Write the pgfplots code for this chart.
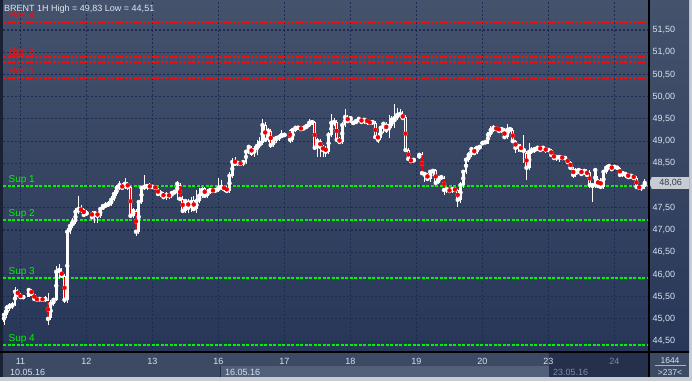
\documentclass[border=0pt]{standalone}
\usepackage{pgfplots}
\pgfplotsset{compat=1.18}
\usepackage{pgfplotstable}
\usepackage{fontspec}
\setmainfont{Liberation Sans}
\definecolor{bgtop}{RGB}{68,82,108}
\definecolor{bgbot}{RGB}{40,55,88}
\definecolor{gridc}{RGB}{24,44,84}
\definecolor{labc}{RGB}{215,225,240}
\definecolor{resc}{RGB}{255,10,10}
\definecolor{supc}{RGB}{0,245,0}
\definecolor{redbody}{RGB}{240,0,0}
\definecolor{stripc}{RGB}{60,74,100}
\definecolor{bandc}{RGB}{82,96,122}
\definecolor{darkc}{RGB}{36,48,76}
\definecolor{winc}{RGB}{200,205,212}
\definecolor{tagc}{RGB}{200,204,210}
\definecolor{tagtext}{RGB}{50,60,80}
\definecolor{titlec}{RGB}{225,232,242}
\definecolor{dimc}{RGB}{125,140,165}

\pgfplotstableread{
i o h l c
0 44.93 45.20 44.86 45.09
1 45.09 45.31 45.02 45.25
2 45.25 45.36 45.18 45.29
3 45.29 45.38 45.22 45.31
4 45.31 45.72 45.29 45.61
5 45.63 45.67 45.49 45.54
6 45.54 45.58 45.47 45.49
7 45.49 45.52 45.47 45.49
9 45.49 45.70 45.49 45.65
10 45.65 45.67 45.52 45.56
11 45.56 45.56 45.40 45.45
12 45.45 45.49 45.38 45.43
13 45.43 45.49 45.40 45.45
14 45.45 45.47 45.40 45.43
15 45.43 45.52 45.38 45.45
16 45.43 45.58 44.86 45.00
17 45.02 45.43 44.98 45.34
18 45.34 45.47 45.29 45.43
19 45.43 46.19 45.40 46.06
20 46.06 46.24 45.90 46.10
21 46.06 46.15 45.92 45.97
22 45.97 46.01 45.36 45.43
23 45.43 47.05 45.36 46.96
24 46.96 47.18 46.91 47.09
25 47.09 47.27 47.05 47.18
26 47.18 47.50 47.14 47.41
27 47.41 47.77 47.36 47.47
28 47.47 47.56 47.38 47.45
29 47.47 47.50 47.32 47.34
30 47.36 47.45 47.32 47.38
32 47.41 47.43 47.27 47.29
33 47.29 47.43 47.16 47.38
34 47.38 47.41 47.16 47.32
35 47.32 47.52 47.27 47.47
36 47.47 47.59 47.45 47.54
37 47.54 47.63 47.50 47.56
38 47.56 47.65 47.52 47.59
39 47.59 47.77 47.54 47.68
40 47.68 47.90 47.65 47.81
41 47.81 48.01 47.77 47.95
42 47.95 48.10 47.90 48.01
43 48.01 48.06 47.90 47.95
44 47.95 48.17 47.92 48.04
45 48.04 48.08 47.90 47.97
46 47.97 47.99 47.27 47.32
47 47.32 47.50 47.27 47.43
48 47.43 47.47 46.87 46.96
49 46.96 47.68 46.91 47.63
50 47.63 47.99 47.59 47.95
51 47.95 48.24 47.90 47.97
52 47.97 48.04 47.90 47.99
53 47.99 48.06 47.92 47.97
54 47.97 47.99 47.95 47.97
55 47.97 48.01 47.90 47.95
56 47.92 47.95 47.77 47.81
57 47.81 47.90 47.74 47.83
58 47.83 47.86 47.70 47.74
59 47.74 47.86 47.68 47.79
60 47.79 47.83 47.70 47.77
61 47.77 47.88 47.72 47.83
62 47.83 47.88 47.81 47.86
63 47.83 48.10 47.68 48.04
64 48.01 48.06 47.65 47.70
65 47.70 47.77 47.38 47.43
66 47.43 47.70 47.38 47.65
67 47.65 47.70 47.38 47.50
68 47.50 47.74 47.41 47.63
69 47.68 47.77 47.43 47.47
70 47.47 47.90 47.38 47.65
71 47.65 47.95 47.61 47.77
72 47.77 47.97 47.72 47.90
73 47.95 47.97 47.72 47.77
74 47.77 47.92 47.72 47.86
75 47.86 47.95 47.81 47.90
76 47.90 47.95 47.83 47.88
77 47.88 47.95 47.83 47.90
78 47.90 48.17 47.86 47.95
79 47.95 48.13 47.90 47.97
80 47.97 47.99 47.86 47.92
81 47.95 47.99 47.83 47.88
82 47.88 48.31 47.83 48.22
83 48.22 48.62 48.17 48.53
84 48.58 48.64 48.44 48.49
85 48.49 48.55 48.44 48.51
86 48.51 48.55 48.44 48.49
87 48.49 48.58 48.44 48.53
88 48.53 48.80 48.49 48.76
89 48.76 48.91 48.71 48.87
90 48.85 48.89 48.67 48.73
91 48.73 48.89 48.64 48.80
92 48.80 49.03 48.69 48.89
93 48.89 49.09 48.85 48.96
94 48.96 49.50 48.91 49.36
95 49.36 49.43 48.98 49.03
96 49.03 49.30 48.98 49.23
97 49.23 49.27 48.85 48.91
98 48.91 49.09 48.87 49.03
99 49.03 49.12 48.96 49.07
100 49.07 49.16 49.00 49.09
101 49.09 49.25 49.07 49.14
102 49.14 49.16 49.12 49.14
104 49.25 49.27 48.96 49.03
105 49.03 49.30 48.98 49.25
106 49.25 49.32 49.21 49.30
107 49.30 49.34 49.25 49.30
108 49.30 49.32 49.23 49.27
109 49.27 49.34 49.25 49.30
110 49.30 49.39 49.27 49.34
111 49.34 49.50 49.32 49.41
112 49.41 49.48 49.36 49.43
113 49.43 49.45 48.80 48.85
114 48.85 49.07 48.64 49.00
115 49.00 49.05 48.64 48.87
116 48.87 48.91 48.64 48.80
117 48.85 48.89 48.64 48.76
118 48.76 49.21 48.71 49.14
119 49.14 49.61 49.09 49.41
120 49.41 49.52 49.34 49.43
121 49.43 49.48 48.98 49.03
122 49.05 49.09 48.94 48.98
123 48.98 49.43 48.94 49.36
124 49.36 49.72 49.32 49.54
125 49.54 49.59 49.41 49.45
126 49.45 49.57 49.41 49.52
127 49.41 49.43 49.39 49.41
128 49.41 49.50 49.39 49.45
129 49.45 49.54 49.43 49.50
130 49.50 49.52 49.41 49.43
131 49.43 49.52 49.39 49.48
132 49.48 49.50 49.36 49.43
133 49.43 49.48 49.36 49.41
134 49.41 49.48 49.36 49.43
135 49.41 49.45 49.05 49.09
136 49.14 49.18 48.96 49.03
137 49.07 49.34 49.03 49.30
138 49.30 49.43 49.18 49.39
139 49.39 49.43 49.18 49.25
140 49.25 49.59 49.07 49.34
141 49.34 49.57 49.30 49.48
142 49.43 49.83 49.30 49.52
143 49.52 49.75 49.48 49.59
144 49.59 49.72 49.52 49.61
145 49.59 49.68 49.48 49.52
146 49.54 49.59 48.76 48.80
147 48.80 48.85 48.55 48.60
148 48.58 48.60 48.51 48.55
149 48.55 48.60 48.53 48.58
151 48.62 48.71 48.60 48.69
152 48.71 48.76 48.24 48.28
153 48.22 48.31 48.08 48.26
154 48.26 48.28 48.10 48.15
155 48.15 48.35 48.08 48.31
156 48.31 48.37 48.22 48.33
157 48.35 48.37 48.01 48.06
158 48.06 48.22 48.04 48.17
159 48.17 48.24 48.13 48.19
160 48.17 48.22 47.79 47.90
161 47.90 47.95 47.83 47.92
162 47.90 47.92 47.83 47.88
163 47.88 47.95 47.83 47.92
164 47.92 47.97 47.86 47.90
165 47.90 47.92 47.52 47.68
166 47.68 48.08 47.61 48.01
167 48.01 48.35 47.95 48.31
168 48.31 48.64 48.26 48.58
169 48.58 48.76 48.53 48.69
170 48.69 48.87 48.64 48.82
171 48.82 48.87 48.69 48.73
172 48.73 48.89 48.71 48.85
173 48.85 48.89 48.80 48.87
174 48.94 48.98 48.91 48.96
175 48.96 49.00 48.94 48.98
176 48.98 49.21 48.94 49.14
177 49.14 49.34 49.09 49.25
178 49.25 49.36 49.21 49.30
179 49.30 49.34 49.23 49.27
180 49.30 49.32 49.18 49.23
181 49.23 49.32 49.18 49.27
182 49.25 49.30 49.05 49.09
183 49.09 49.39 49.05 49.25
184 49.25 49.32 49.18 49.27
185 49.25 49.30 48.96 49.00
186 49.00 49.03 48.73 48.85
187 48.85 48.94 48.76 48.89
188 48.89 48.94 48.76 48.80
189 48.76 49.14 48.51 48.80
190 48.73 48.78 48.13 48.40
191 48.40 48.96 48.35 48.76
192 48.76 48.87 48.71 48.80
193 48.78 48.87 48.73 48.82
194 48.82 48.89 48.78 48.85
195 48.87 48.89 48.76 48.80
196 48.80 48.89 48.78 48.85
197 48.82 48.85 48.73 48.80
198 48.80 48.82 48.76 48.80
199 48.80 48.82 48.67 48.69
200 48.69 48.71 48.60 48.62
201 48.62 48.67 48.55 48.64
202 48.62 48.67 48.53 48.64
203 48.64 48.67 48.60 48.62
204 48.62 48.64 48.58 48.62
205 48.58 48.60 48.51 48.53
206 48.53 48.55 48.35 48.40
207 48.37 48.42 48.17 48.24
208 48.24 48.40 48.19 48.33
209 48.33 48.40 48.26 48.35
210 48.35 48.37 48.24 48.26
211 48.26 48.37 48.24 48.33
212 48.33 48.37 48.19 48.24
213 48.31 48.35 47.95 48.01
214 47.97 48.06 47.63 48.01
215 48.01 48.40 47.95 48.35
216 48.15 48.22 47.95 47.99
217 48.13 48.17 47.92 47.97
218 47.97 48.35 47.92 48.31
219 48.31 48.46 48.26 48.40
220 48.40 48.49 48.35 48.44
221 48.44 48.46 48.33 48.37
222 48.42 48.44 48.40 48.42
223 48.40 48.42 48.37 48.40
224 48.40 48.42 48.19 48.24
225 48.24 48.33 48.19 48.28
226 48.22 48.31 48.17 48.26
227 48.26 48.28 48.15 48.19
228 48.19 48.26 48.15 48.22
229 48.22 48.24 48.13 48.17
230 48.17 48.22 47.92 47.97
231 47.97 47.99 47.90 47.95
232 47.95 48.01 47.88 47.97
233 47.97 48.15 47.92 48.06
}\candles

\begin{document}
\begin{tikzpicture}[x=1pt,y=1pt]
\useasboundingbox (0,0) rectangle (692,381);
% window frame and strips
\fill[winc] (0,0) rectangle (692,381);
\fill[stripc] (0,4) rectangle (689,381);
\fill[darkc!70!black] (0,4) rectangle (3,381);
\shade[top color=bgtop, bottom color=bgbot] (649,29) rectangle (689,381);
\fill[bandc] (220,4) rectangle (549,15);
\draw[darkc, line width=1pt] (220,4) -- (220,15);
\fill[darkc] (549,4) rectangle (649,29);
\node[anchor=base west, text=labc, font=\fontsize{9}{10}\selectfont, inner sep=0pt] at (10,5.5) {10.05.16};
\node[anchor=base west, text=labc, font=\fontsize{9}{10}\selectfont, inner sep=0pt] at (225,5.5) {16.05.16};
\node[anchor=base west, text=dimc, font=\fontsize{9}{10}\selectfont, inner sep=0pt] at (553,5.5) {23.05.16};
\node[anchor=base, text=labc, font=\fontsize{8.5}{10}\selectfont, inner sep=0pt] at (670,18) {1644};
\draw[labc!70!stripc, line width=1pt] (655,15.5) -- (686,15.5);
\node[anchor=base, text=labc, font=\fontsize{8.5}{10}\selectfont, inner sep=0pt] at (670,5.5) {>237<};

\begin{axis}[
  at={(3pt,29pt)}, anchor=south west,
  scale only axis, width=646pt, height=352pt,
  xmin=-0.364, xmax=234.55, ymin=44.255, ymax=52.175,
  clip=false,
  axis background/.style={top color=bgtop, bottom color=bgbot},
  axis line style={draw=none},
  xtick={6,30,54,78,102,126,150,174,198,222},
  xticklabels={11,12,13,16,17,18,19,20,23,{\textcolor{dimc}{24}}},
  ytick={44.5,45,45.5,46,46.5,47,47.5,48,48.5,49,49.5,50,50.5,51,51.5},
  yticklabel pos=right,
  major tick length=0pt,
  xmajorgrids, ymajorgrids,
  grid style={gridc, dash pattern=on 2pt off 2pt, line width=1.2pt},
  tick label style={font=\fontsize{9}{10}\selectfont, text=labc},
  xticklabel style={anchor=base, yshift=-12pt},
  yticklabel style={anchor=west, xshift=0pt,
    /pgf/number format/fixed, /pgf/number format/fixed zerofill,
    /pgf/number format/precision=2, /pgf/number format/use comma,
    /pgf/number format/assume math mode=true},
]
% resistance and support levels
\addplot[resc, line width=2pt, dash pattern=on 3pt off 1.5pt] coordinates {(-0.364,51.69) (234.55,51.69)};
\addplot[resc, line width=2pt, dash pattern=on 3pt off 1.5pt] coordinates {(-0.364,50.89) (234.55,50.89)};
\addplot[resc, line width=2pt, dash pattern=on 3pt off 1.5pt] coordinates {(-0.364,50.79) (234.55,50.79)};
\addplot[resc, line width=2pt, dash pattern=on 3pt off 1.5pt] coordinates {(-0.364,50.42) (234.55,50.42)};
\addplot[supc, line width=2pt, dash pattern=on 3pt off 1.5pt] coordinates {(-0.364,47.99) (234.55,47.99)};
\addplot[supc, line width=2pt, dash pattern=on 3pt off 1.5pt] coordinates {(-0.364,47.22) (234.55,47.22)};
\addplot[supc, line width=2pt, dash pattern=on 3pt off 1.5pt] coordinates {(-0.364,45.91) (234.55,45.91)};
\addplot[supc, line width=2pt, dash pattern=on 3pt off 1.5pt] coordinates {(-0.364,44.41) (234.55,44.41)};

% wicks
\addplot[white, only marks, mark=none, error bars/.cd, y dir=both, y explicit, error mark=none,
  error bar style={white, line width=1pt}]
  table[x=i, y=c, y error plus expr=\thisrow{h}-\thisrow{c}, y error minus expr=\thisrow{c}-\thisrow{l}] {\candles};
% bodies
\addplot[white, only marks, mark=none, error bars/.cd, y dir=both, y explicit, error mark=none,
  error bar style={white, line width=2.7pt}]
  table[x=i, y expr={(\thisrow{o}+\thisrow{c})/2}, y error expr={max(abs(\thisrow{o}-\thisrow{c})/2,0.014)}] {\candles};
% red interior of falling candles
\addplot[redbody, only marks, mark=none, restrict expr to domain={\thisrow{o}-\thisrow{c}}{0.001:100},
  error bars/.cd, y dir=both, y explicit, error mark=none,
  error bar style={redbody, line width=1.1pt}]
  table[x=i, y expr={(\thisrow{o}+\thisrow{c})/2}, y error expr={max(abs(\thisrow{o}-\thisrow{c})/2-0.022,0.006)}] {\candles};

% level labels
\node[anchor=base west, text=resc, font=\fontsize{10}{12}\selectfont, inner sep=0pt, yshift=3pt] at (axis cs:1.6,51.69) {Res 4};
\node[anchor=base west, text=resc, font=\fontsize{10}{12}\selectfont, inner sep=0pt, yshift=3pt] at (axis cs:1.6,50.89) {Res 3};
\node[anchor=base west, text=resc, font=\fontsize{10}{12}\selectfont, inner sep=0pt, yshift=3pt] at (axis cs:1.6,50.79) {Res 2};
\node[anchor=base west, text=resc, font=\fontsize{10}{12}\selectfont, inner sep=0pt, yshift=3pt] at (axis cs:1.6,50.42) {Res 1};
\node[anchor=base west, text=supc, font=\fontsize{10}{12}\selectfont, inner sep=0pt, yshift=4pt] at (axis cs:1.6,47.99) {Sup 1};
\node[anchor=base west, text=supc, font=\fontsize{10}{12}\selectfont, inner sep=0pt, yshift=4pt] at (axis cs:1.6,47.22) {Sup 2};
\node[anchor=base west, text=supc, font=\fontsize{10}{12}\selectfont, inner sep=0pt, yshift=4pt] at (axis cs:1.6,45.91) {Sup 3};
\node[anchor=base west, text=supc, font=\fontsize{10}{12}\selectfont, inner sep=0pt, yshift=4pt] at (axis cs:1.6,44.41) {Sup 4};

% last price tag
\node[anchor=west, xshift=3pt, fill=tagc, text=tagtext, font=\fontsize{9}{10}\selectfont,
  inner sep=0pt, minimum height=12pt, minimum width=37pt] (tag) at (axis cs:234.55,48.06) {48,06};
\fill[tagc] (tag.north west) -- ([xshift=-3pt]tag.west) -- (tag.south west) -- cycle;
\end{axis}

% borders
\draw[black, line width=1.2pt] (0,29) -- (689,29);
\draw[black, line width=1.2pt] (649,4) -- (649,381);
% title
\node[anchor=base west, text=titlec, font=\fontsize{9}{10}\selectfont, inner sep=0pt] at (4,369.5) {BRENT 1H High = 49,83 Low = 44,51};
\end{tikzpicture}
\end{document}
